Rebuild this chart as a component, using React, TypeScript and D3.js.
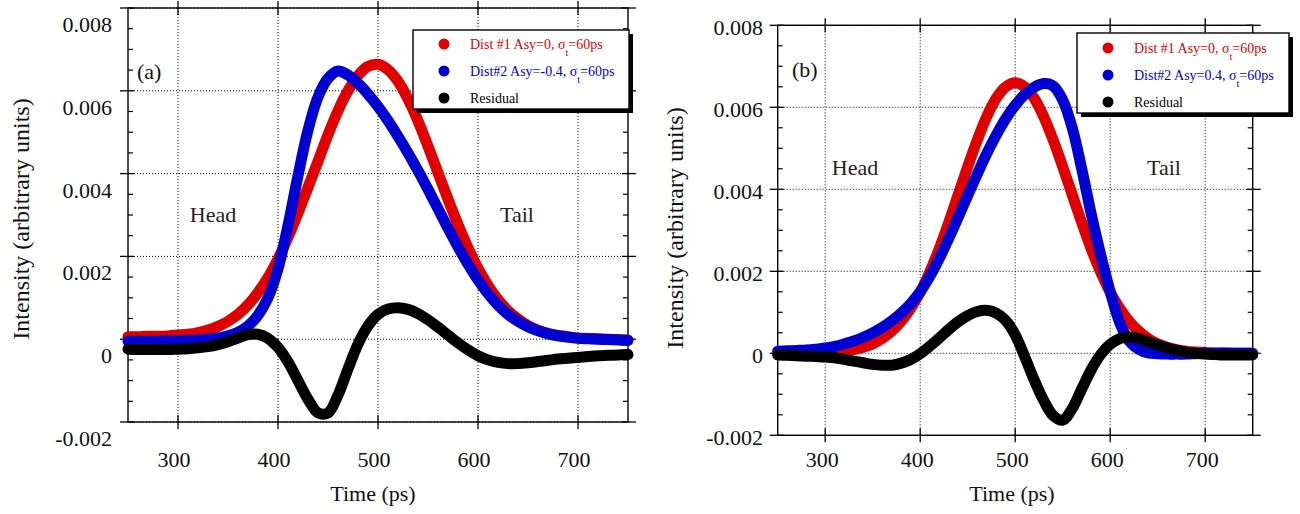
import React from 'react';
import * as d3 from 'd3';

// Time axis samples (ps), shared by every series
const times = [
  250, 260, 270, 280, 290, 300, 310, 320, 330, 340,
  350, 360, 370, 380, 390, 400, 410, 420, 430, 440,
  450, 460, 470, 480, 490, 500, 510, 520, 530, 540,
  550, 560, 570, 580, 590, 600, 610, 620, 630, 640,
  650, 660, 670, 680, 690, 700, 710, 720, 730, 740, 750,
];

// Panel (a): symmetric vs. Asy = -0.4
const distOneA = [
  0.00006, 0.00006, 0.00007, 0.00007, 0.00008, 0.0001, 0.00012, 0.00016, 0.00022, 0.00031,
  0.00043, 0.0006, 0.00083, 0.00113, 0.00149, 0.00194, 0.00246, 0.00305, 0.00367, 0.0043,
  0.00494, 0.00552, 0.006, 0.00637, 0.00659, 0.00664, 0.00651, 0.00623, 0.0058, 0.00527,
  0.00466, 0.00402, 0.00338, 0.00277, 0.00221, 0.00171, 0.0013, 0.00096, 0.00069, 0.00049,
  0.00033, 0.00022, 0.00014, 0.00009, 0.00006, 0.00003, 0.00002, 0.00001, 0, -0.00001, -0.00002,
];
const distTwoA = [
  -0.00005, -0.00005, -0.00005, -0.00005, -0.00004, -0.00004, -0.00003, -0.00002, 0, 0.00003,
  0.00008, 0.00017, 0.00032, 0.00058, 0.001, 0.0017, 0.00275, 0.00395, 0.00505, 0.00585,
  0.0063, 0.00648, 0.00638, 0.00618, 0.00592, 0.00562, 0.00528, 0.0049, 0.0045, 0.00407,
  0.00362, 0.00315, 0.00268, 0.00223, 0.00181, 0.00143, 0.0011, 0.00082, 0.0006, 0.00043,
  0.0003, 0.0002, 0.00013, 0.00008, 0.00005, 0.00002, 0.00001, 0, -0.00001, -0.00002, -0.00003,
];
const residualA = [
  -0.00024, -0.00025, -0.00025, -0.00025, -0.00025, -0.00024, -0.00023, -0.00021, -0.00018, -0.00013,
  -0.00006, 0.00003, 0.00011, 0.00012, 0.00002, -0.0002, -0.00055, -0.001, -0.00145, -0.00178,
  -0.00178, -0.00135, -0.00072, -0.00012, 0.00032, 0.0006, 0.00073, 0.00076, 0.00072, 0.00062,
  0.00047, 0.00029, 0.0001, -0.00009, -0.00026, -0.0004, -0.0005, -0.00056, -0.00059, -0.00059,
  -0.00057, -0.00054, -0.00051, -0.00048, -0.00046, -0.00044, -0.00042, -0.0004, -0.00039, -0.00038, -0.00037,
];

// Panel (b): symmetric vs. Asy = +0.4
const distOneB = [
  0, 0, 0, 0.00001, 0.00001, 0.00002, 0.00003, 0.00005, 0.00009, 0.00015,
  0.00023, 0.00036, 0.00054, 0.00078, 0.0011, 0.00149, 0.00198, 0.00255, 0.00319, 0.00387,
  0.00455, 0.0052, 0.00577, 0.00622, 0.0065, 0.0066, 0.0065, 0.00622, 0.00577, 0.0052,
  0.00455, 0.00387, 0.00319, 0.00255, 0.00198, 0.00149, 0.0011, 0.00078, 0.00054, 0.00036,
  0.00023, 0.00015, 0.00009, 0.00005, 0.00003, 0.00002, 0.00001, 0.00001, 0, 0, 0,
];
const distTwoB = [
  0.00005, 0.00006, 0.00007, 0.00008, 0.0001, 0.00013, 0.00017, 0.00023, 0.0003, 0.00039,
  0.0005, 0.00063, 0.00079, 0.00098, 0.00121, 0.0015, 0.00187, 0.00231, 0.0028, 0.00332,
  0.00385, 0.00437, 0.00487, 0.00532, 0.00572, 0.00605, 0.00631, 0.00649, 0.00658, 0.00652,
  0.00618, 0.0055, 0.0045, 0.0034, 0.0024, 0.0015, 0.00075, 0.0003, 0.0001, 0.00001,
  -0.00001, -0.00002, -0.00002, -0.00002, -0.00001, 0, 0, 0, 0, 0, 0,
];
const residualB = [
  -0.00004, -0.00005, -0.00006, -0.00007, -0.00008, -0.00009, -0.00011, -0.00015, -0.00019, -0.00023,
  -0.00027, -0.00029, -0.00029, -0.00024, -0.00015, -0.00001, 0.00017, 0.00037, 0.00058, 0.00077,
  0.00092, 0.00102, 0.00105, 0.00098, 0.0008, 0.00045, -0.00008, -0.00065, -0.00115, -0.00152,
  -0.00163, -0.00135, -0.00087, -0.0004, -0.00003, 0.00022, 0.00036, 0.0004, 0.00036, 0.00028,
  0.0002, 0.00013, 0.00007, 0.00003, 0, -0.00002, -0.00003, -0.00004, -0.00004, -0.00004, -0.00004,
];

const xTicks = [300, 400, 500, 600, 700];
const yTicks = [-0.002, 0, 0.002, 0.004, 0.006, 0.008];
const yTickLabels = ['-0.002', '0', '0.002', '0.004', '0.006', '0.008'];
const yMinorTicks = [
  -0.0015, -0.001, -0.0005, 0.0005, 0.001, 0.0015, 0.0025, 0.003, 0.0035,
  0.0045, 0.005, 0.0055, 0.0065, 0.007, 0.0075,
];

const legendA = ['Dist #1 Asy=0, ', 'Dist#2 Asy=-0.4, ', 'Residual'];
const legendB = ['Dist #1 Asy=0, ', 'Dist#2 Asy=0.4, ', 'Residual'];

const RED = '#e00000';
const BLUE = '#0000d2';
const BLACK = '#000000';
const FONT = "'Liberation Serif', 'Times New Roman', Times, serif";
const LINE_W = 11;

type PanelProps = {
  left: number;
  right: number;
  top: number;
  bottom: number;
  red: number[];
  blue: number[];
  resid: number[];
  legendTexts: string[];
  legendBox: { x: number; y: number; w: number; h: number };
  markerX: number;
  markerY: number[];
  textX: number;
  tag: string;
  tagPos: [number, number];
  headPos: [number, number];
  tailPos: [number, number];
  yLabelX: number;
  yLabelDy: number;
  xLabelDx: number;
  xLabelY: number;
  xTitle: [number, number];
  yTitle: [number, number];
};

function Panel(p: PanelProps) {
  const x = d3.scaleLinear().domain([250, 750]).range([p.left, p.right]);
  const y = d3.scaleLinear().domain([-0.002, 0.008]).range([p.bottom, p.top]);
  const line = d3
    .line<number>()
    .x((_, i) => x(times[i]))
    .y((d) => y(d))
    .curve(d3.curveCatmullRom.alpha(0.5));

  const colors = [RED, BLUE, BLACK];
  const dotted = { stroke: '#000', strokeWidth: 1, strokeDasharray: '1 2' };

  return (
    <g fontFamily={FONT}>
      {/* grid */}
      {xTicks.map((t) => (
        <line key={'gx' + t} x1={x(t)} x2={x(t)} y1={p.top} y2={p.bottom} {...dotted} />
      ))}
      {yTicks.map((v) => (
        <line key={'gy' + v} x1={p.left} x2={p.right} y1={y(v)} y2={y(v)} {...dotted} />
      ))}

      {/* frame */}
      <rect
        x={p.left}
        y={p.top}
        width={p.right - p.left}
        height={p.bottom - p.top}
        fill="none"
        stroke="#000"
        strokeWidth={1.4}
      />
      {xTicks.map((t) => (
        <g key={'tx' + t} stroke="#000" strokeWidth={1.3}>
          <line x1={x(t)} x2={x(t)} y1={p.top - 7} y2={p.top + 7} />
          <line x1={x(t)} x2={x(t)} y1={p.bottom - 7} y2={p.bottom + 7} />
        </g>
      ))}
      {yTicks.map((v) => (
        <g key={'ty' + v} stroke="#000" strokeWidth={1.3}>
          <line x1={p.left - 8} x2={p.left + 6} y1={y(v)} y2={y(v)} />
          <line x1={p.right - 6} x2={p.right + 8} y1={y(v)} y2={y(v)} />
        </g>
      ))}
      {yMinorTicks.map((v) => (
        <g key={'my' + v} stroke="#000" strokeWidth={1.2}>
          <line x1={p.left} x2={p.left + 5} y1={y(v)} y2={y(v)} />
          <line x1={p.right - 5} x2={p.right} y1={y(v)} y2={y(v)} />
        </g>
      ))}

      {/* tick labels */}
      {yTicks.map((v, i) => (
        <text
          key={'ly' + v}
          x={p.yLabelX}
          y={y(v) + p.yLabelDy}
          textAnchor="end"
          fontSize={22}
          fill="#111"
        >
          {yTickLabels[i]}
        </text>
      ))}
      {xTicks.map((t) => (
        <text
          key={'lx' + t}
          x={x(t) + p.xLabelDx}
          y={p.xLabelY}
          textAnchor="middle"
          fontSize={22}
          fill="#111"
        >
          {t}
        </text>
      ))}

      {/* axis titles */}
      <text x={p.xTitle[0]} y={p.xTitle[1]} textAnchor="middle" fontSize={22} fill="#111">
        Time (ps)
      </text>
      <text
        transform={`translate(${p.yTitle[0]},${p.yTitle[1]}) rotate(-90)`}
        textAnchor="middle"
        dy="0.35em"
        fontSize={24}
        fill="#111"
      >
        Intensity (arbitrary units)
      </text>

      {/* annotations */}
      <text x={p.tagPos[0]} y={p.tagPos[1]} fontSize={22} fill="#111">
        {p.tag}
      </text>
      <text x={p.headPos[0]} y={p.headPos[1]} textAnchor="middle" fontSize={22} fill="#222">
        Head
      </text>
      <text x={p.tailPos[0]} y={p.tailPos[1]} textAnchor="middle" fontSize={22} fill="#222">
        Tail
      </text>

      {/* curves */}
      {[p.red, p.blue, p.resid].map((s, i) => (
        <path
          key={'c' + i}
          d={line(s) || ''}
          fill="none"
          stroke={colors[i]}
          strokeWidth={LINE_W}
          strokeLinecap="round"
          strokeLinejoin="round"
        />
      ))}

      {/* legend */}
      <rect
        x={p.legendBox.x + 4}
        y={p.legendBox.y + 4}
        width={p.legendBox.w}
        height={p.legendBox.h}
        fill="#000"
      />
      <rect
        x={p.legendBox.x}
        y={p.legendBox.y}
        width={p.legendBox.w}
        height={p.legendBox.h}
        fill="#fff"
        stroke="#000"
        strokeWidth={1.4}
      />
      {p.legendTexts.map((txt, i) => (
        <g key={'lg' + i}>
          <circle cx={p.markerX} cy={p.markerY[i]} r={5.5} fill={colors[i]} />
          {i < 2 ? (
            <text x={p.textX} y={p.markerY[i] + 5} fontSize={14} fill={colors[i]}>
              {txt}σ
              <tspan dy={7} fontSize={10}>
                t
              </tspan>
              <tspan dy={-7}>=60ps</tspan>
            </text>
          ) : (
            <text x={p.textX} y={p.markerY[i] + 5} fontSize={14} fill={BLACK}>
              {txt}
            </text>
          )}
        </g>
      ))}
    </g>
  );
}

export default function App() {
  return (
    <svg
      width={1300}
      height={514}
      style={{ position: 'absolute', left: 0, top: 0, background: '#fff' }}
    >
      <rect width={1300} height={514} fill="#fff" />
      <Panel
        left={128}
        right={628}
        top={8}
        bottom={422}
        red={distOneA}
        blue={distTwoA}
        resid={residualA}
        legendTexts={legendA}
        legendBox={{ x: 413, y: 30, w: 216, h: 79 }}
        markerX={444}
        markerY={[44, 71, 98]}
        textX={470}
        tag="(a)"
        tagPos={[137, 79]}
        headPos={[213, 222]}
        tailPos={[517, 222]}
        yLabelX={112}
        yLabelDy={24}
        xLabelDx={-4}
        xLabelY={467}
        xTitle={[373, 501]}
        yTitle={[21, 219]}
      />
      <Panel
        left={777.7}
        right={1252.7}
        top={25.3}
        bottom={435.3}
        red={distOneB}
        blue={distTwoB}
        resid={residualB}
        legendTexts={legendB}
        legendBox={{ x: 1077, y: 33, w: 212, h: 80 }}
        markerX={1108}
        markerY={[48, 75, 102]}
        textX={1134}
        tag="(b)"
        tagPos={[792, 77]}
        headPos={[855, 175]}
        tailPos={[1164, 175]}
        yLabelX={763}
        yLabelDy={9.5}
        xLabelDx={-3}
        xLabelY={467}
        xTitle={[1012, 501]}
        yTitle={[675, 228]}
      />
    </svg>
  );
}
